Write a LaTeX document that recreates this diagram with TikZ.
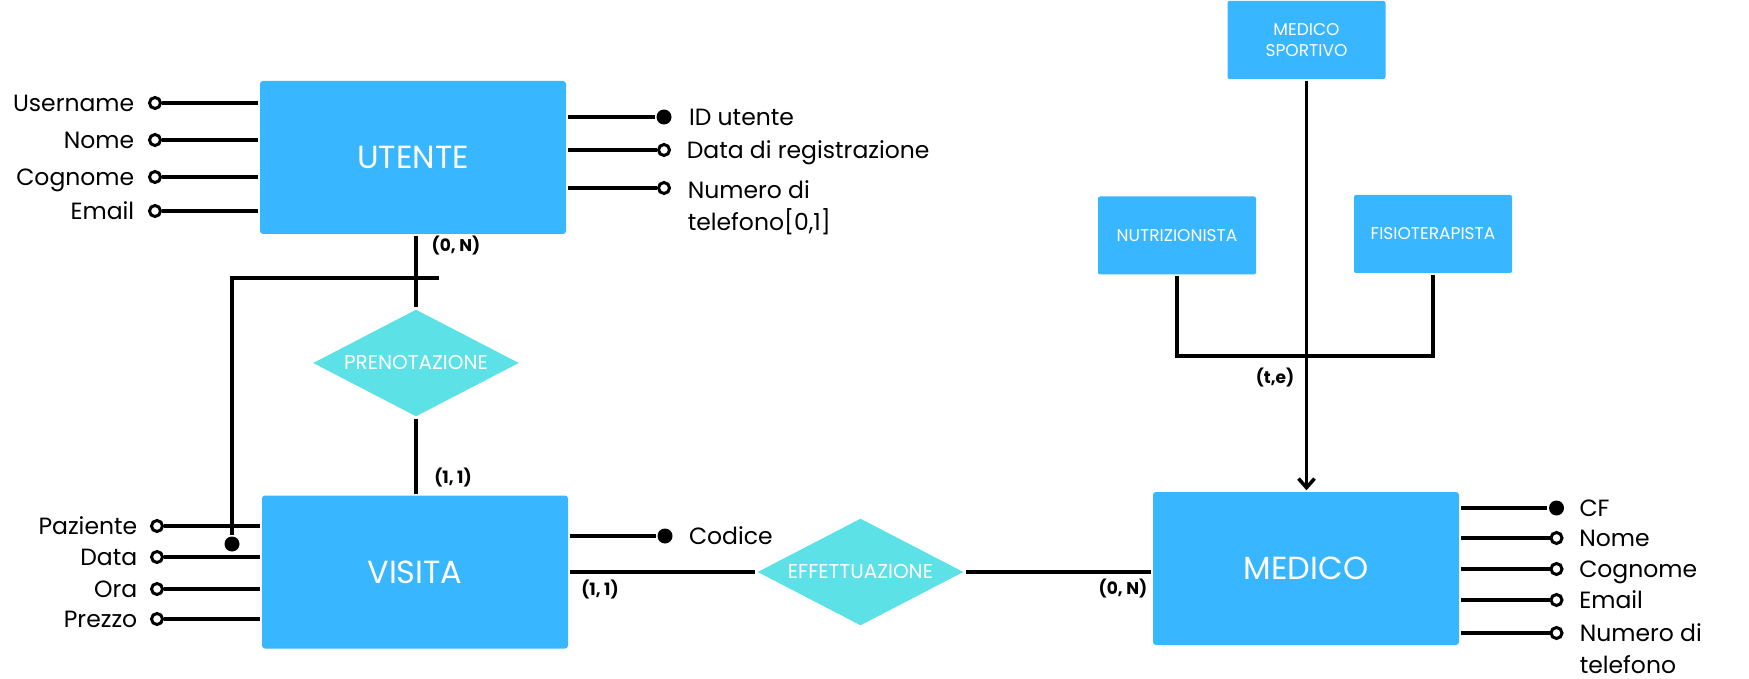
\documentclass[tikz,border=0pt]{standalone}
\usepackage{fontspec}
\setmainfont{Poppins}
\usetikzlibrary{shapes.geometric, arrows.meta, positioning}
\definecolor{boxblue}{HTML}{38B6FF}
\definecolor{relcyan}{HTML}{5CE1E6}

\begin{document}
\begin{tikzpicture}[x=1pt, y=-1pt, line width=3.5pt,
	entity/.style={fill=boxblue, rounded corners=3pt, text=white, minimum width=306pt, minimum height=153pt, inner sep=0pt, font=\fontsize{32}{36}\selectfont},
	subent/.style={fill=boxblue, rounded corners=2pt, text=white, minimum width=158pt, minimum height=78pt, inner sep=0pt, align=center, font=\fontsize{17}{21.6}\selectfont},
	rel/.style={diamond, aspect=1.92, fill=relcyan, text=white, minimum width=207pt, minimum height=108pt, inner sep=0pt, font=\fontsize{20}{24}\selectfont},
	attr/.style={circle, draw, fill=white, line width=3pt, minimum size=11pt, inner sep=0pt},
	key/.style={circle, fill=black, minimum size=15pt, inner sep=0pt},
	lbl/.style={font=\fontsize{23.5}{34}\selectfont, inner sep=0pt, text height=16.5pt, text depth=0pt},
	lbltwo/.style={font=\fontsize{23.5}{32}\selectfont, inner sep=0pt, align=left, anchor=north west},
	card/.style={font=\bfseries\fontsize{17}{22}\selectfont, inner sep=0pt}]
		\useasboundingbox (0,0) rectangle (1749,679);
		
		\node[entity] (utente) at (413,157.5) {UTENTE};
		\node[entity] (visita) at (415,572) {VISITA};
		\node[entity] (medico) at (1306,568.5) {MEDICO};
		\node[subent] (sportivo) at (1306.5,40) {MEDICO\\SPORTIVO};
		\node[subent] (nutri) at (1177,235.5) {NUTRIZIONISTA};
		\node[subent] (fisio) at (1433,234) {FISIOTERAPISTA};
		\node[rel] (pren) at (416,363) {PRENOTAZIONE};
		\node[rel] (effe) at (860.5,572) {EFFETTUAZIONE};
		
		% attributi utente
		\node[attr] (un) at (155,103) {};
		\node[attr] (unome) at (155,140) {};
		\node[attr] (ucogn) at (155,177) {};
		\node[attr] (umail) at (155,211) {};
		\node[lbl, left=12pt of un] (tun) {Username};
		\node[lbl, left=12pt of unome] (tunome) {Nome};
		\node[lbl, left=12pt of ucogn] (tucogn) {Cognome};
		\node[lbl, left=12pt of umail] (tumail) {Email};
		\draw[-] (un) -- (un -| utente.west);
		\draw[-] (unome) -- (unome -| utente.west);
		\draw[-] (ucogn) -- (ucogn -| utente.west);
		\draw[-] (umail) -- (umail -| utente.west);
		
		\node[key] (uid) at (664,117) {};
		\node[attr] (udata) at (664,150) {};
		\node[attr] (utel) at (664,188) {};
		\node[lbl, right=14pt of uid] (tuid) {ID utente};
		\node[lbl, right=14pt of udata] (tudata) {Data di registrazione};
		\node[lbltwo] (tutel) at (686,179) {Numero di\\telefono[0,1]};
		\draw[-] (utente.east |- uid) -- (uid);
		\draw[-] (utente.east |- udata) -- (udata);
		\draw[-] (utente.east |- utel) -- (utel);
		
		% attributi visita
		\node[attr] (vpaz) at (157,526) {};
		\node[attr] (vdata) at (157,557) {};
		\node[attr] (vora) at (157,589) {};
		\node[attr] (vprezzo) at (157,619) {};
		\node[lbl, left=11pt of vpaz] (tvpaz) {Paziente};
		\node[lbl, left=11pt of vdata] (tvdata) {Data};
		\node[lbl, left=11pt of vora] (tvora) {Ora};
		\node[lbl, left=11pt of vprezzo] (tvprezzo) {Prezzo};
		\draw[-] (vpaz) -- (vpaz -| visita.west);
		\draw[-] (vdata) -- (vdata -| visita.west);
		\draw[-] (vora) -- (vora -| visita.west);
		\draw[-] (vprezzo) -- (vprezzo -| visita.west);
		
		\node[key] (vcod) at (665,536) {};
		\node[lbl, right=13pt of vcod] (tvcod) {Codice};
		\draw[-] (visita.east |- vcod) -- (vcod);
		
		% attributi medico
		\node[key] (mcf) at (1556.5,508) {};
		\node[attr] (mnome) at (1556.5,538) {};
		\node[attr] (mcogn) at (1556.5,569) {};
		\node[attr] (mmail) at (1556.5,600) {};
		\node[attr] (mtel) at (1556.5,633) {};
		\node[lbl, right=12pt of mcf] (tmcf) {CF};
		\node[lbl, right=14pt of mnome] (tmnome) {Nome};
		\node[lbl, right=14pt of mcogn] (tmcogn) {Cognome};
		\node[lbl, right=14pt of mmail] (tmmail) {Email};
		\node[lbltwo] (tmtel) at (1578,622) {Numero di\\telefono};
		\draw[-] (medico.east |- mcf) -- (mcf);
		\draw[-] (medico.east |- mnome) -- (mnome);
		\draw[-] (medico.east |- mcogn) -- (mcogn);
		\draw[-] (medico.east |- mmail) -- (mmail);
		\draw[-] (medico.east |- mtel) -- (mtel);
		
		% relazioni
		\draw[-] (pren.north |- utente.south) -- (pren.north);
		\draw[-] (pren.south) -- (pren.south |- visita.north);
		\draw[-] (visita.east |- effe) -- (effe.west);
		\draw[-] (effe.east) -- (effe -| medico.west);
		
		\coordinate (kl) at (232,278);
		\coordinate (kr) at (439,278);
		\node[key] (kdot) at (232,544) {};
		\draw[-] (kr) -- (kl) -- (kdot);
		
		% generalizzazione
		\coordinate (isa) at (1306.5,356);
		\draw[-] (nutri.south) -- (nutri.south |- isa) -- (fisio.south |- isa) -- (fisio.south);
		\draw[-{Straight Barb[length=9pt,width=16pt]}] (sportivo.south) -- (sportivo.south |- medico.north);
		
		\node[card] (c1) at (456,246) {(0, N)};
		\node[card] (c2) at (453,478) {(1, 1)};
		\node[card] (c3) at (600,590) {(1, 1)};
		\node[card] (c4) at (1123,589) {(0, N)};
		\node[card] (c5) at (1275,378) {(t,e)};
		
		\end{tikzpicture}
\end{document}
